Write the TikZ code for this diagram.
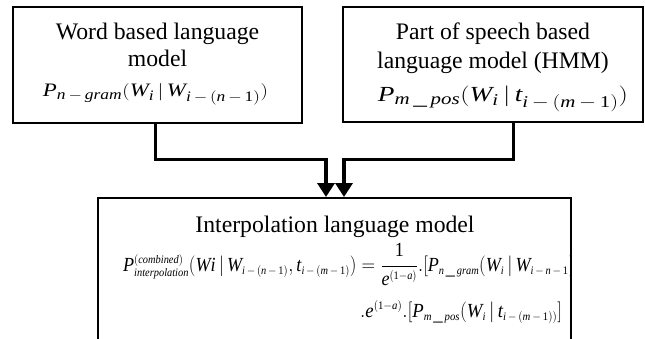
\documentclass[tikz,border=0pt]{standalone}
\usepackage{fontspec}
\setmainfont{Liberation Serif}
\usepackage{graphicx}
\usetikzlibrary{arrows.meta}

% italic / upright pieces of the formulas, in the text font
\newcommand{\mI}[1]{\mathit{#1}}
\newcommand{\mR}[1]{\mathrm{#1}}

% script sizes used by the formulas
\DeclareMathSizes{19}{19}{14.5}{11}
\DeclareMathSizes{21.5}{21.5}{16.5}{12.5}
\DeclareMathSizes{20}{20}{11.5}{9}

\tikzset{
  box/.style={draw, line width=2pt, rectangle, inner sep=0pt},
  conn/.style={line width=3.5pt, -{Triangle[length=14pt,width=17pt]}},
  lbl/.style={inner sep=0pt, font=\fontsize{23.7}{28}\selectfont, anchor=base},
  eqn/.style={inner sep=0pt, anchor=base west},
}

\begin{document}
\begin{tikzpicture}[x=1pt, y=-1pt]
\useasboundingbox (0,0) rectangle (645,338);
\clip (0,0) rectangle (645,338);

% boxes
\node[box, minimum width=289pt, minimum height=116pt] (b1) at (157.5,65) {};
\node[box, minimum width=300pt, minimum height=115pt] (b2) at (493,64.5) {};
\node[box, minimum width=473pt, minimum height=170pt] (b3) at (334.5,283) {};

% word based model
\node[lbl] (w1) at (157.5,39.3) {Word based language};
\node[lbl] (w2) at (157.5,66.7) {model};
\node[eqn, anchor=base] (wf) at (155.5,96.7) {\fontsize{19}{23}\selectfont\resizebox{225pt}{\height}{$\mI{P}_{\mI{n}\,-\,\mI{gram}}\mR{(}\mI{W}_{\mI{i}}\,|\,\mI{W}_{\mI{i}\,-\,\mR{(}\mI{n}\,-\,\mR{1)}}\mR{)}$}};

% part of speech model
\node[lbl] (p1) at (493,39) {Part of speech based};
\node[lbl] (p2) at (493,68) {language model (HMM)};
\node[eqn, anchor=base] (pf) at (503,101.5) {\fontsize{21.5}{26}\selectfont\resizebox{250pt}{\height}{$\mI{P}_{\mI{m}\,\_\,\mI{pos}}\mR{(}\mI{W}_{\mI{i}}\,|\,\mI{t}_{\mI{i}\,-\,\mR{(}\mI{m}\,-\,\mR{1)}}\mR{)}$}};

% interpolation model
\node[lbl] (it) at (335,232) {Interpolation language model};
\begin{scope}
  \clip (99,199) rectangle (570,338);
  \node[eqn] (eq1) at (123,271) {\fontsize{20}{24}\selectfont\resizebox{452pt}{\height}{$\mI{P}^{\mR{(}\mI{combined}\mR{)}}_{\mI{interpolation}}\mR{(}\mI{Wi}\,|\,\mI{W}_{\mI{i}\,-\,\mR{(}\mI{n}\,-\,\mR{1)}},\mI{t}_{\mI{i}\,-\,\mR{(}\mI{m}\,-\,\mR{1)}}\mR{)}=\displaystyle\frac{\mR{1}}{\mI{e}^{\mR{(1}-\mI{a}\mR{)}}}\mR{.[}\mI{P}_{\mI{n}\,\_\,\mI{gram}}\mR{(}\mI{W}_{\mI{i}}\,|\,\mI{W}_{\mI{i}\,-\,\mI{n}\,-\,\mR{1}}\mR{)}$}};
  \node[eqn] (eq2) at (360,317) {\fontsize{20}{24}\selectfont\resizebox{202pt}{\height}{$\mR{.}\mI{e}^{\mR{(1}-\mI{a}\mR{)}}\mR{.[}\mI{P}_{\mI{m}\,\_\,\mI{pos}}\mR{(}\mI{W}_{\mI{i}}\,|\,\mI{t}_{\mI{i}\,-\,\mR{(}\mI{m}\,-\,\mR{1))}}\mR{]}$}};
\end{scope}

% connectors
\coordinate (lv) at (0,159.5);
\draw[conn] ([xshift=-2pt]b1.south) -- ([xshift=-2pt]b1.south |- lv) -| ([xshift=-8.5pt]b3.north);
\draw[conn] ([xshift=20.5pt]b2.south) -- ([xshift=20.5pt]b2.south |- lv) -| ([xshift=9.5pt]b3.north);
\end{tikzpicture}
\end{document}
